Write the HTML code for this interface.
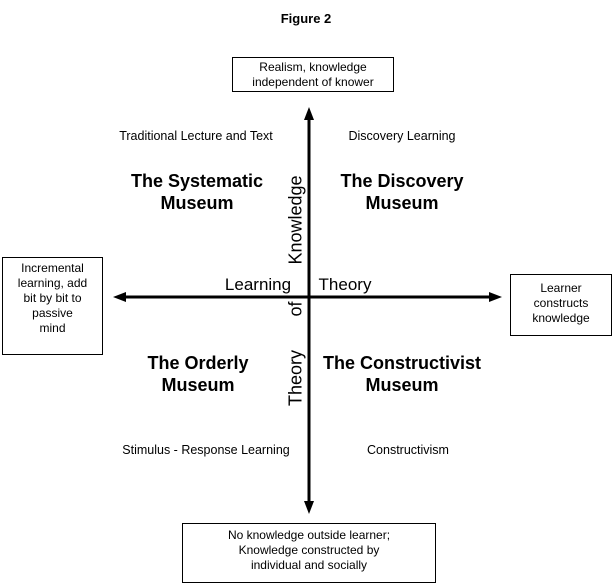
<!DOCTYPE html>
<html><head><style>
body{margin:0;width:612px;height:583px;background:#fff;position:relative;overflow:hidden;font-family:"Liberation Sans",Arial,sans-serif;color:#000}
.t{position:absolute;white-space:nowrap;text-align:center;transform:translateX(-50%)}
.box{position:absolute;border:1px solid #000;box-sizing:border-box;text-align:center;font-size:12px;line-height:15px;background:#fff}
.b{font-weight:bold;font-size:18px;line-height:22px}
.s{font-size:12.5px}
</style></head><body>
<svg width="612" height="583" style="position:absolute;left:0;top:0">
<line x1="309" y1="118" x2="309" y2="504" stroke="#000" stroke-width="3"/>
<polygon points="309,107 304,120 314,120" fill="#000"/>
<polygon points="309,514 304,501 314,501" fill="#000"/>
<line x1="124" y1="297" x2="492" y2="297" stroke="#000" stroke-width="3"/>
<polygon points="113,297 126,292 126,302" fill="#000"/>
<polygon points="502,297 489,292 489,302" fill="#000"/>
</svg>
<div class="t b" style="left:306px;top:8px;font-size:13px">Figure 2</div>
<div class="box" style="left:232px;top:57px;width:162px;height:35px;padding-top:2px">Realism, knowledge<br>independent of knower</div>
<div class="box" style="left:2px;top:257px;width:101px;height:98px;padding-top:3px">Incremental<br>learning, add<br>bit by bit to<br>passive<br>mind</div>
<div class="box" style="left:510px;top:274px;width:102px;height:62px;padding-top:6px">Learner<br>constructs<br>knowledge</div>
<div class="box" style="left:182px;top:523px;width:254px;height:60px;padding-top:4px">No knowledge outside learner;<br>Knowledge constructed by<br>individual and socially</div>
<div class="t s" style="left:196px;top:129px">Traditional Lecture and Text</div>
<div class="t s" style="left:402px;top:129px">Discovery Learning</div>
<div class="t s" style="left:206px;top:443px">Stimulus - Response Learning</div>
<div class="t s" style="left:408px;top:443px">Constructivism</div>
<div class="t b" style="left:197px;top:170px">The Systematic<br>Museum</div>
<div class="t b" style="left:402px;top:170px">The Discovery<br>Museum</div>
<div class="t b" style="left:198px;top:352px">The Orderly<br>Museum</div>
<div class="t b" style="left:402px;top:352px">The Constructivist<br>Museum</div>
<div class="t" style="left:258px;top:275px;font-size:17px">Learning</div>
<div class="t" style="left:345px;top:275px;font-size:17px">Theory</div>
<div style="position:absolute;left:296px;top:220px;font-size:18px;transform:translate(-50%,-50%) rotate(-90deg);white-space:nowrap">Knowledge</div>
<div style="position:absolute;left:296px;top:309px;font-size:18px;transform:translate(-50%,-50%) rotate(-90deg);white-space:nowrap">of</div>
<div style="position:absolute;left:296px;top:378px;font-size:18px;transform:translate(-50%,-50%) rotate(-90deg);white-space:nowrap">Theory</div>
</body></html>
